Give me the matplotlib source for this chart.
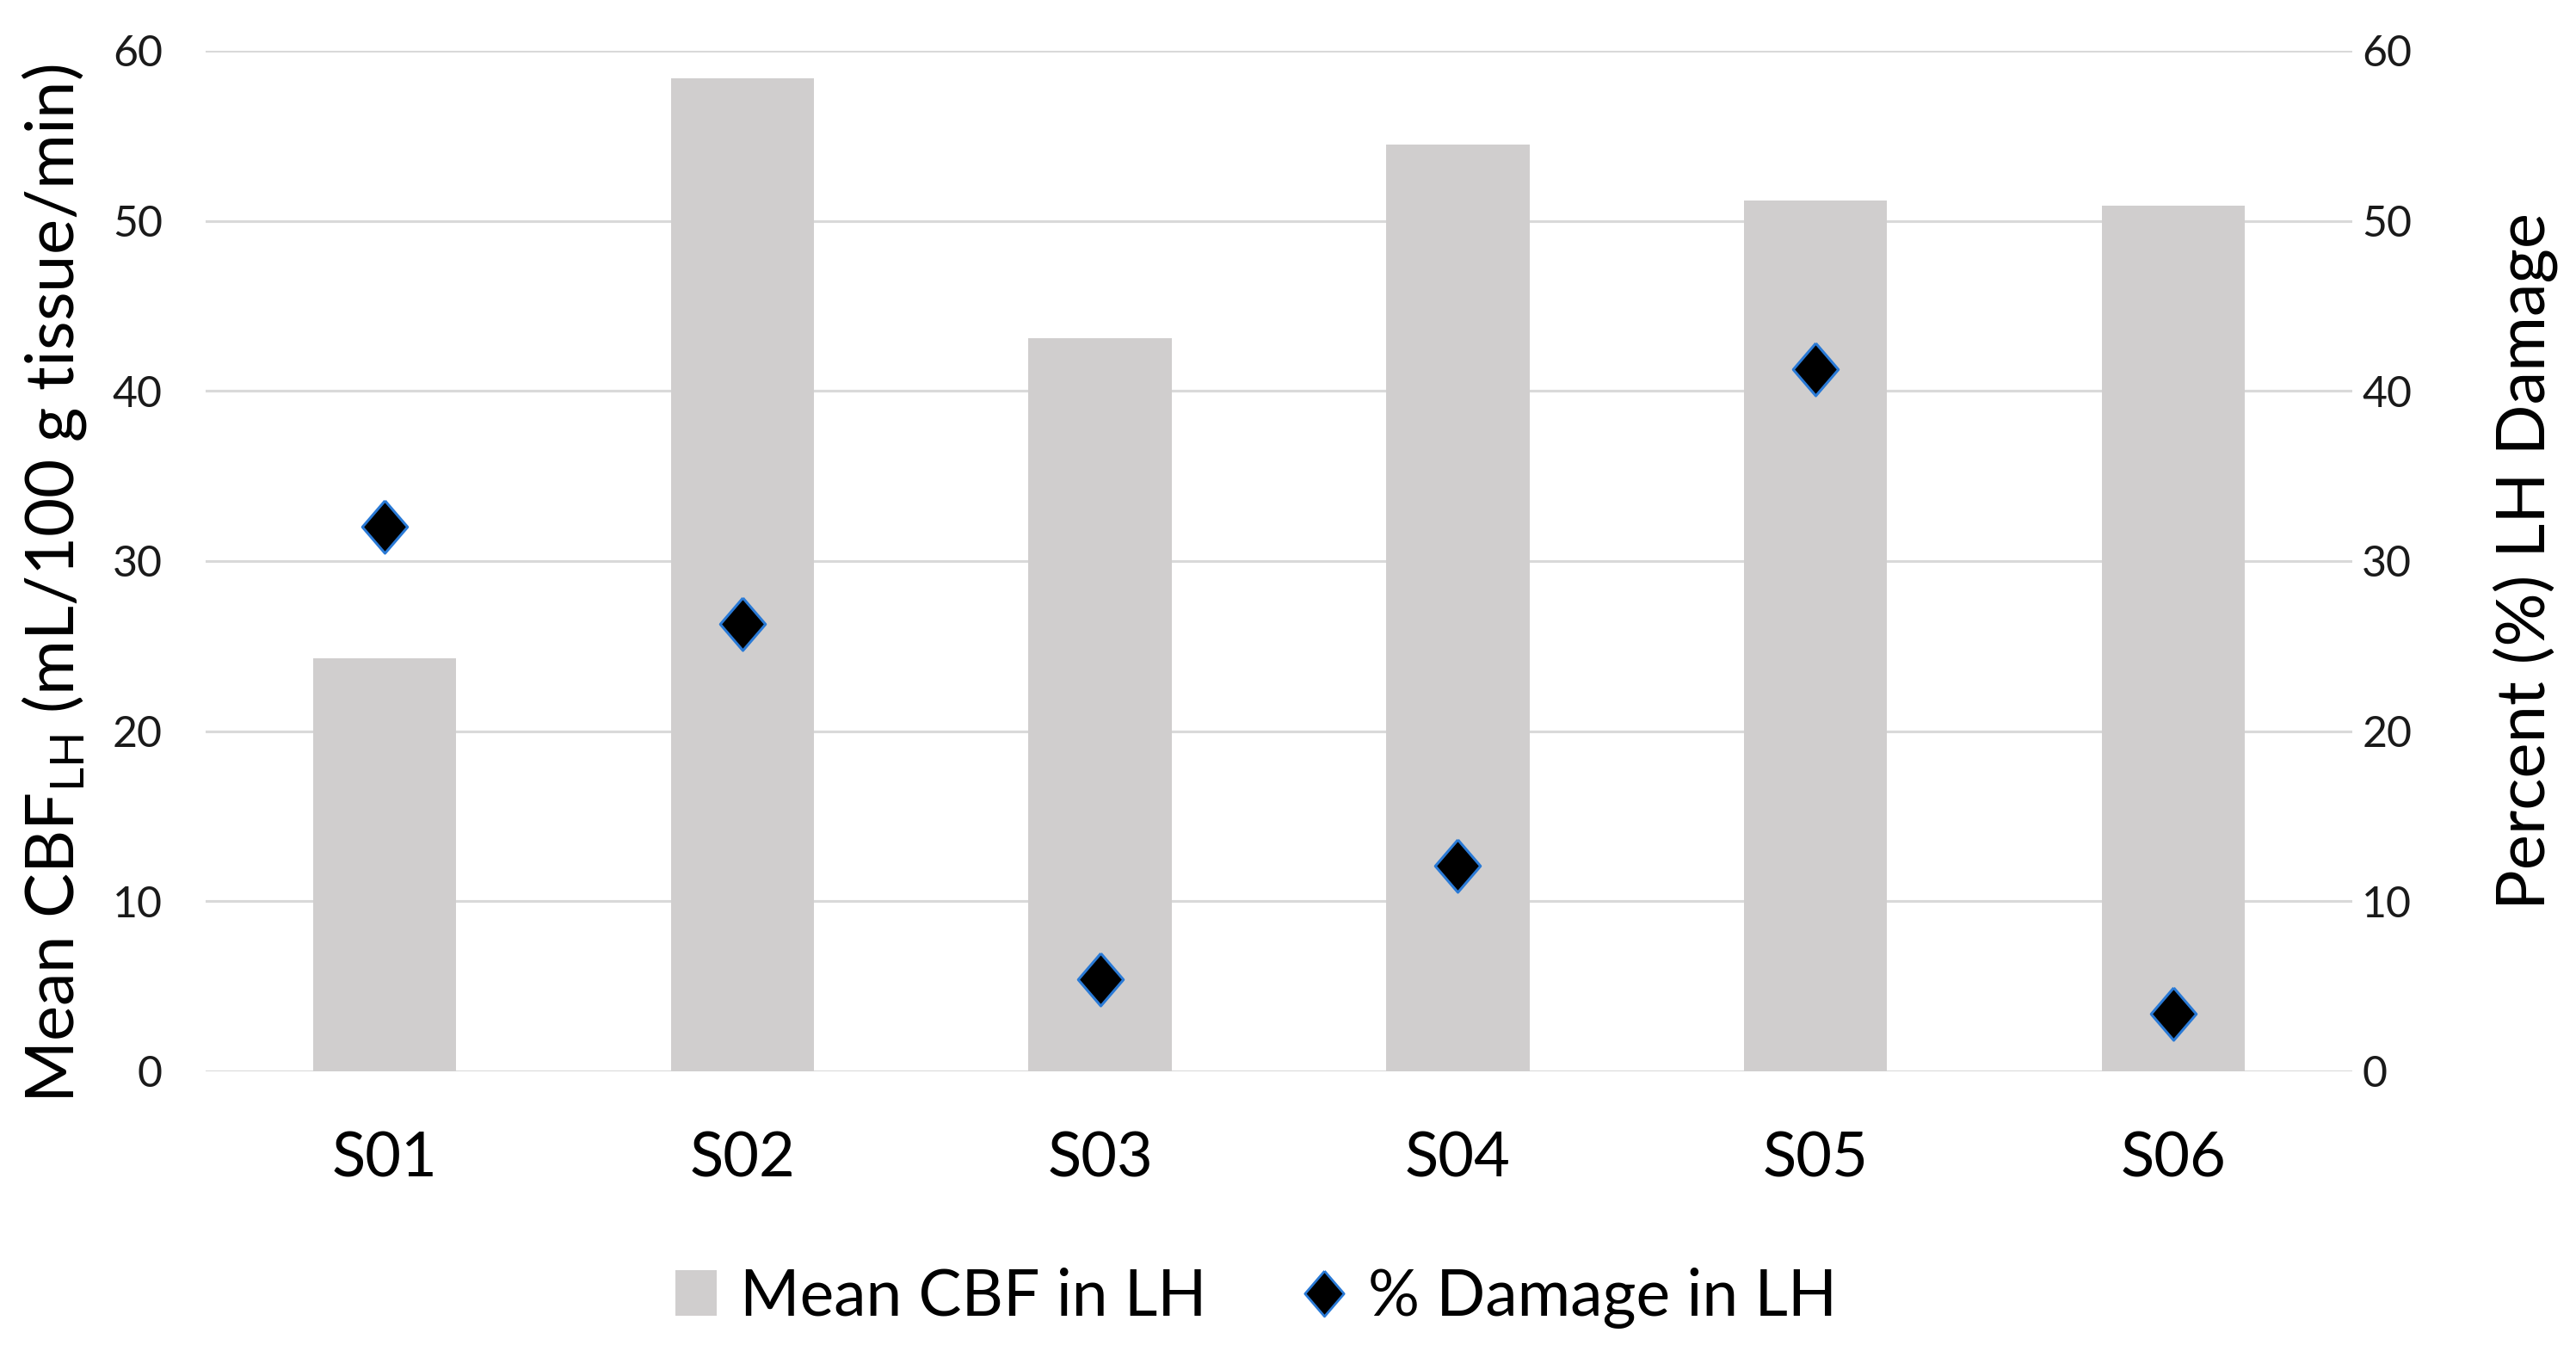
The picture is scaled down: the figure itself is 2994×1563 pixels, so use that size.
import matplotlib
matplotlib.use('Agg')
import matplotlib.pyplot as plt
from matplotlib.lines import Line2D
from matplotlib.patches import Patch

plt.rcParams['font.family'] = ['Lato', 'DejaVu Sans']
plt.rcParams['mathtext.fontset'] = 'custom'
plt.rcParams['mathtext.rm'] = 'Lato'

# ---- data ----
subjects = ['S01', 'S02', 'S03', 'S04', 'S05', 'S06']
mean_cbf = [24.3, 58.4, 43.1, 54.5, 51.2, 50.9]
pct_damage = [32.0, 26.3, 5.4, 12.1, 41.3, 3.4]

BAR_COLOR = '#d0cece'
GRID_COLOR = '#d9d9d9'
EDGE_BLUE = '#2a7ad6'
diamond = [(0, 1), (0.86, 0), (0, -1), (-0.86, 0), (0, 1)]

fig = plt.figure(figsize=(29.94, 15.63), dpi=100)
ax = fig.add_axes([0.0798, 0.2035, 0.8334, 0.7588])

x = list(range(len(subjects)))
ax.bar(x, mean_cbf, width=0.40, color=BAR_COLOR, zorder=2)
ax.set_xlim(-0.5, len(subjects) - 0.5)
ax.set_ylim(0, 60)
ax.set_yticks(range(0, 61, 10))
ax.set_xticks(x)
ax.set_xticklabels(subjects, fontsize=52)
ax.yaxis.grid(True, color=GRID_COLOR, linewidth=2.2, zorder=0)
ax.set_axisbelow(True)
for s in ax.spines.values():
    s.set_visible(False)
ax.tick_params(axis='y', length=0, pad=36, labelsize=36, labelcolor='#1a1a1a')
ax.tick_params(axis='x', length=0, pad=50, labelcolor='black')
ax.set_ylabel('Mean CBF$_{\\mathrm{LH}}$ (mL/100 g tissue/min)', fontsize=56, labelpad=20)
ax.yaxis.label.set_y(0.478)

ax2 = ax.twinx()
ax2.plot(x, pct_damage, linestyle='none', marker=diamond, markersize=44,
         markerfacecolor='black', markeredgecolor=EDGE_BLUE, markeredgewidth=2.2, zorder=4)
ax2.set_ylim(0, 60)
ax2.set_yticks(range(0, 61, 10))
for s in ax2.spines.values():
    s.set_visible(False)
ax2.tick_params(axis='y', length=0, pad=8, labelsize=36, labelcolor='#1a1a1a')
ax2.set_ylabel('Percent (%) LH Damage', fontsize=56, labelpad=68)

handles = [
    Patch(facecolor=BAR_COLOR, edgecolor='none', label='Mean CBF in LH'),
    Line2D([], [], linestyle='none', marker=diamond, markersize=38,
           markerfacecolor='black', markeredgecolor=EDGE_BLUE, markeredgewidth=2,
           label='% Damage in LH'),
]
fig.legend(handles=handles, loc='center', bbox_to_anchor=(0.4875, 0.035), ncol=2,
           frameon=False, fontsize=54, handlelength=0.65, handleheight=0.7,
           handletextpad=0.35, columnspacing=1.5)

fig.savefig('out.png', dpi=100)
